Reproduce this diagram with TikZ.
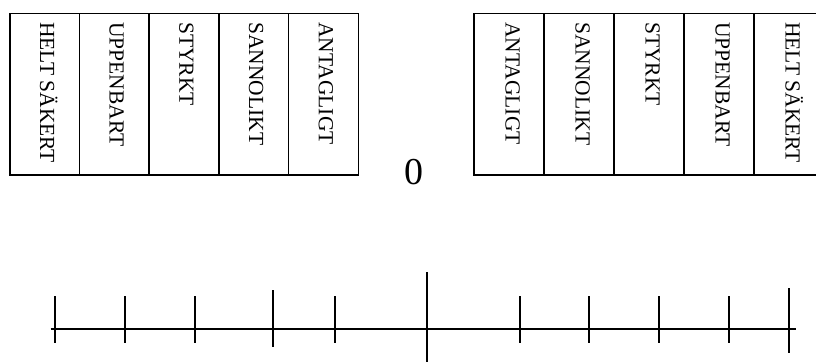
\documentclass[tikz,border=0pt]{standalone}
\usepackage{fontspec}
\setmainfont{Liberation Serif}
\begin{document}
\begin{tikzpicture}[x=1pt,y=-1pt,
  col/.style={draw,line width=1.5pt,rectangle,minimum width=69.7pt,minimum height=161.5pt,anchor=north west,inner sep=0pt},
  colr/.style={col,minimum width=70pt},
  lab/.style={rotate=-90,anchor=base west,inner sep=0pt,font=\fontsize{21.5}{26}\selectfont},
  axis/.style={line width=1.6pt},
  tick/.style={line width=1.6pt},
  zero/.style={font=\fontsize{38}{44}\selectfont,inner sep=0pt}]
\useasboundingbox (0,0) rectangle (816,362);
% left box
\foreach \i/\t in {0/HELT SÄKERT,1/UPPENBART,2/STYRKT,3/SANNOLIKT,4/ANTAGLIGT}{
  \node[col] (L\i) at ({9+69.7*\i},12.5) {};
  \node[lab] (LT\i) at ([xshift=31pt,yshift=-9.5pt]L\i.north west) {\t};
}
% right box
\foreach \i/\t in {0/ANTAGLIGT,1/SANNOLIKT,2/STYRKT,3/UPPENBART,4/HELT SÄKERT}{
  \node[colr] (R\i) at ({473+70*\i},12.5) {};
  \node[lab] (RT\i) at ([xshift=32.5pt,yshift=-9.5pt]R\i.north west) {\t};
}
\node[zero] (z) at (414,172) {0};
% axis
\coordinate (a0) at (50.5,328.7);
\coordinate (a1) at (796,328.7);
\draw[axis] (a0) -- (a1);
\foreach \x in {55,125,195,335,520,589,659,729}{
  \draw[tick] (\x,296) -- (\x,342.5);
}
\draw[tick] (273,290) -- (273,347);
\draw[tick] (789,288) -- (789,353);
\draw[line width=1.3pt] (427,272) -- (427,362);
\end{tikzpicture}
\end{document}
